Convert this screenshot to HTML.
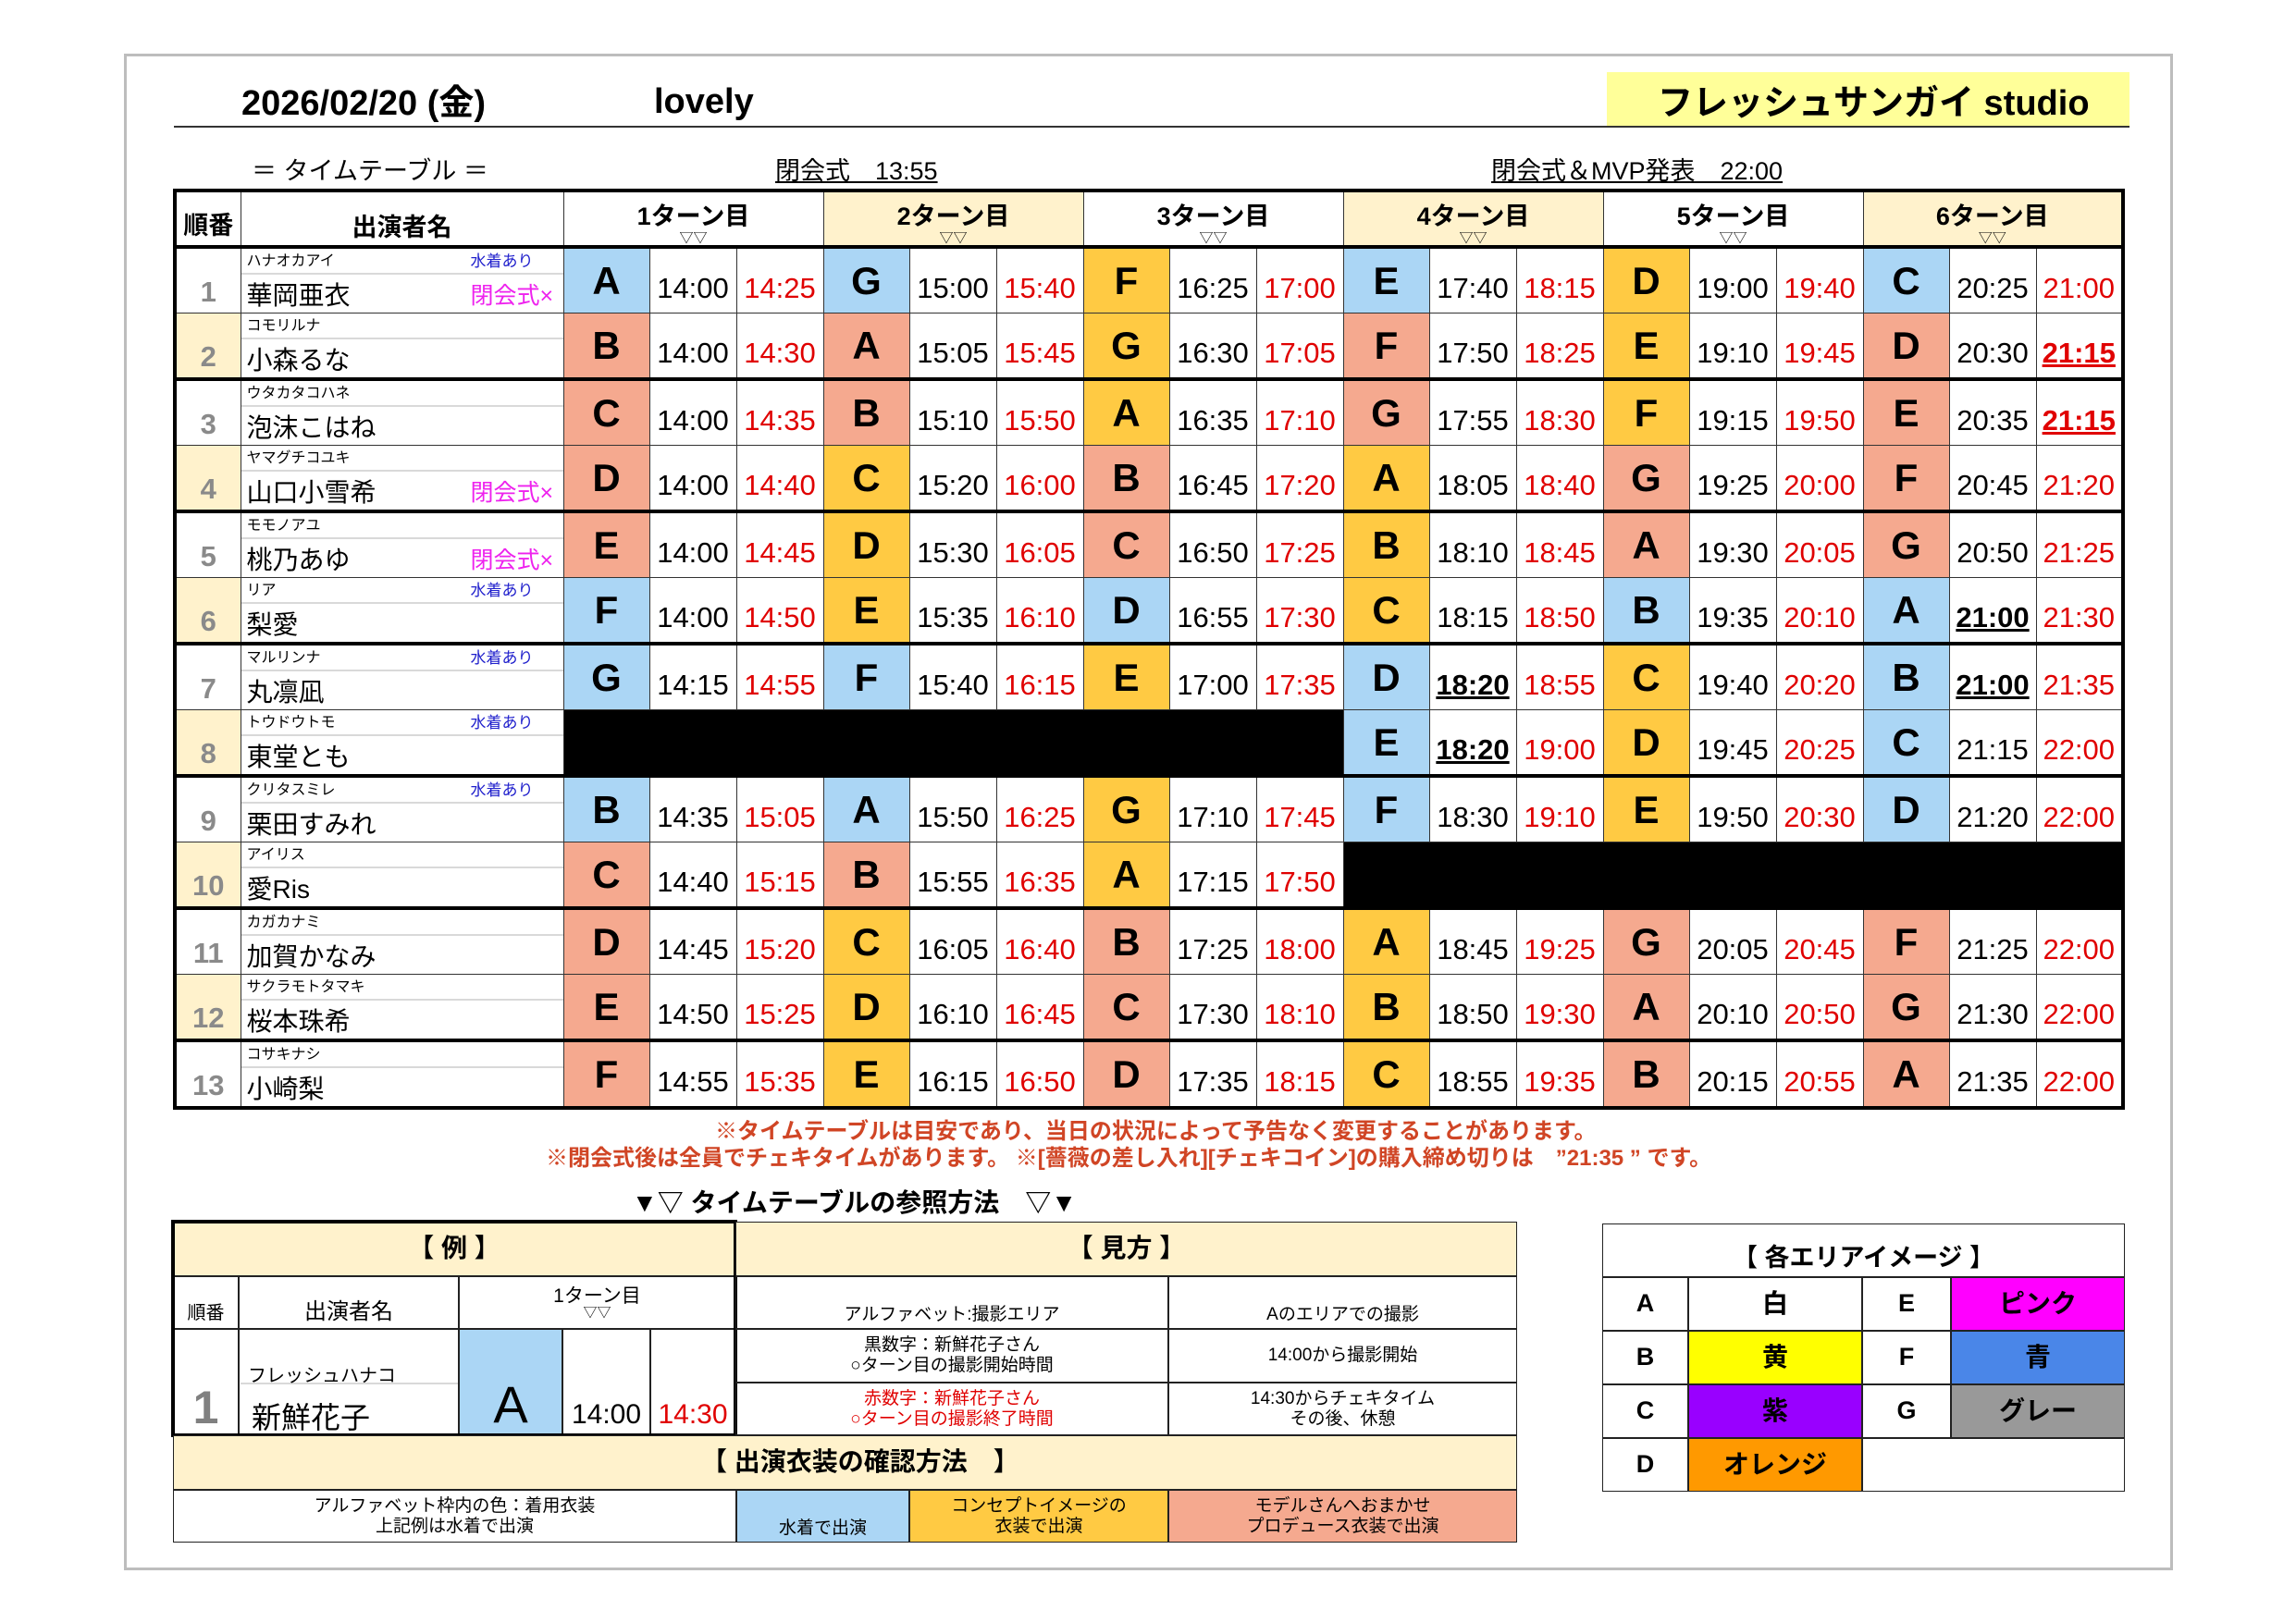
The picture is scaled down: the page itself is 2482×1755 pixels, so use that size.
<!DOCTYPE html>
<html><head><meta charset="utf-8">
<style>
*{margin:0;padding:0;box-sizing:border-box}
body{width:2482px;height:1755px;background:#fff;position:relative;overflow:hidden;font-family:"Liberation Sans","Noto Sans CJK JP",sans-serif;color:#000}
.a{position:absolute;white-space:nowrap}
#frame{position:absolute;left:134px;top:58px;width:2215px;height:1640px;border:3px solid #bdbdbd}
table.m{position:absolute;left:187px;top:204px;border-collapse:collapse;table-layout:fixed;border:4px solid #000}
table.m td{border:1.5px solid #333;padding:0;overflow:hidden}
table.m tr.h td{height:58px;border-bottom:4px solid #000;text-align:center;vertical-align:top;font-weight:bold;font-size:27px}
table.m tr.d td{height:71px}
table.m tr.th td{border-bottom:4px solid #000}
td.no{text-align:center;vertical-align:bottom;color:#8a8a8a;font-weight:bold;font-size:31px;padding-bottom:4px!important}
td.ev{background:#fff2cc}
td.nm{vertical-align:top}
.kn{height:28px;border-bottom:2px solid #d9d9d9;font-size:16px;line-height:27px;padding-left:6px;position:relative}
.nn{height:41px;font-size:28px;line-height:46px;padding-left:6px;position:relative}
.mz{position:absolute;left:248px;top:0;color:#1f1fcc;font-size:17px}
.hk{position:absolute;left:248px;top:0;color:#ee22ee;font-size:25px}
td.L{text-align:center;vertical-align:bottom;font-weight:bold;font-size:42px;line-height:52px;padding-bottom:8px!important}
td.t{text-align:center;vertical-align:bottom;font-size:31px;line-height:40px;padding-bottom:6px!important}
td.r{color:#e00000}
.u{font-weight:bold;text-decoration:underline}
.b{background:#abd6f5}.s{background:#f5a98f}.g{background:#ffca43}.k{background:#000}
.cr{background:#fff2cc}
.tv{font-size:15px;font-weight:normal;display:block;line-height:14px}
.bx{position:absolute;border:1.5px solid #222;display:flex;align-items:center;justify-content:center;text-align:center;line-height:1.15}
</style></head><body>
<div id="frame"></div>
<div class="a" style="left:261px;top:80px;font-size:38px;font-weight:bold">2026/02/20 (金)</div>
<div class="a" style="left:707px;top:89px;font-size:38px;font-weight:bold">lovely</div>
<div class="a" style="left:1737px;top:78px;width:565px;height:59px;background:#ffff99"></div>
<div class="a" style="left:1792px;top:80px;font-size:38px;font-weight:bold">フレッシュサンガイ studio</div>
<div class="a" style="left:188px;top:136px;width:2114px;height:2px;background:#333"></div>
<div class="a" style="left:272px;top:163px;font-size:27px">＝ タイムテーブル ＝</div>
<div class="a" style="left:838px;top:163px;font-size:27px;text-decoration:underline">閉会式　13:55</div>
<div class="a" style="left:1612px;top:163px;font-size:27px;text-decoration:underline">閉会式＆MVP発表　22:00</div>

<table class="m">
<colgroup><col style="width:71px"><col style="width:349px">
<col style="width:93px"><col style="width:94px"><col style="width:94px">
<col style="width:93px"><col style="width:94px"><col style="width:94px">
<col style="width:93px"><col style="width:94px"><col style="width:94px">
<col style="width:93px"><col style="width:94px"><col style="width:94px">
<col style="width:93px"><col style="width:94px"><col style="width:94px">
<col style="width:93px"><col style="width:94px"><col style="width:94px"></colgroup>
<tr class="h"><td style="vertical-align:bottom;padding-bottom:4px">順番</td><td style="vertical-align:bottom;padding-bottom:2px">出演者名</td>
<td colspan="3" style="padding-top:4px">1ターン目<span class="tv">▽▽</span></td>
<td colspan="3" class="cr" style="padding-top:4px">2ターン目<span class="tv">▽▽</span></td>
<td colspan="3" style="padding-top:4px">3ターン目<span class="tv">▽▽</span></td>
<td colspan="3" class="cr" style="padding-top:4px">4ターン目<span class="tv">▽▽</span></td>
<td colspan="3" style="padding-top:4px">5ターン目<span class="tv">▽▽</span></td>
<td colspan="3" class="cr" style="padding-top:4px">6ターン目<span class="tv">▽▽</span></td></tr>

<tr class="d"><td class="no">1</td><td class="nm"><div class="kn">ハナオカアイ<span class="mz">水着あり</span></div><div class="nn">華岡亜衣<span class="hk">閉会式×</span></div></td>
<td class="L b">A</td><td class="t">14:00</td><td class="t r">14:25</td>
<td class="L b">G</td><td class="t">15:00</td><td class="t r">15:40</td>
<td class="L g">F</td><td class="t">16:25</td><td class="t r">17:00</td>
<td class="L b">E</td><td class="t">17:40</td><td class="t r">18:15</td>
<td class="L g">D</td><td class="t">19:00</td><td class="t r">19:40</td>
<td class="L b">C</td><td class="t">20:25</td><td class="t r">21:00</td></tr>

<tr class="d th"><td class="no ev">2</td><td class="nm"><div class="kn">コモリルナ</div><div class="nn">小森るな</div></td>
<td class="L s">B</td><td class="t">14:00</td><td class="t r">14:30</td>
<td class="L s">A</td><td class="t">15:05</td><td class="t r">15:45</td>
<td class="L g">G</td><td class="t">16:30</td><td class="t r">17:05</td>
<td class="L s">F</td><td class="t">17:50</td><td class="t r">18:25</td>
<td class="L g">E</td><td class="t">19:10</td><td class="t r">19:45</td>
<td class="L s">D</td><td class="t">20:30</td><td class="t r"><span class="u">21:15</span></td></tr>

<tr class="d"><td class="no">3</td><td class="nm"><div class="kn">ウタカタコハネ</div><div class="nn">泡沫こはね</div></td>
<td class="L s">C</td><td class="t">14:00</td><td class="t r">14:35</td>
<td class="L s">B</td><td class="t">15:10</td><td class="t r">15:50</td>
<td class="L g">A</td><td class="t">16:35</td><td class="t r">17:10</td>
<td class="L s">G</td><td class="t">17:55</td><td class="t r">18:30</td>
<td class="L g">F</td><td class="t">19:15</td><td class="t r">19:50</td>
<td class="L s">E</td><td class="t">20:35</td><td class="t r"><span class="u">21:15</span></td></tr>

<tr class="d th"><td class="no ev">4</td><td class="nm"><div class="kn">ヤマグチコユキ</div><div class="nn">山口小雪希<span class="hk">閉会式×</span></div></td>
<td class="L s">D</td><td class="t">14:00</td><td class="t r">14:40</td>
<td class="L g">C</td><td class="t">15:20</td><td class="t r">16:00</td>
<td class="L s">B</td><td class="t">16:45</td><td class="t r">17:20</td>
<td class="L g">A</td><td class="t">18:05</td><td class="t r">18:40</td>
<td class="L s">G</td><td class="t">19:25</td><td class="t r">20:00</td>
<td class="L s">F</td><td class="t">20:45</td><td class="t r">21:20</td></tr>

<tr class="d"><td class="no">5</td><td class="nm"><div class="kn">モモノアユ</div><div class="nn">桃乃あゆ<span class="hk">閉会式×</span></div></td>
<td class="L s">E</td><td class="t">14:00</td><td class="t r">14:45</td>
<td class="L g">D</td><td class="t">15:30</td><td class="t r">16:05</td>
<td class="L s">C</td><td class="t">16:50</td><td class="t r">17:25</td>
<td class="L g">B</td><td class="t">18:10</td><td class="t r">18:45</td>
<td class="L s">A</td><td class="t">19:30</td><td class="t r">20:05</td>
<td class="L s">G</td><td class="t">20:50</td><td class="t r">21:25</td></tr>

<tr class="d th"><td class="no ev">6</td><td class="nm"><div class="kn">リア<span class="mz">水着あり</span></div><div class="nn">梨愛</div></td>
<td class="L b">F</td><td class="t">14:00</td><td class="t r">14:50</td>
<td class="L g">E</td><td class="t">15:35</td><td class="t r">16:10</td>
<td class="L b">D</td><td class="t">16:55</td><td class="t r">17:30</td>
<td class="L g">C</td><td class="t">18:15</td><td class="t r">18:50</td>
<td class="L b">B</td><td class="t">19:35</td><td class="t r">20:10</td>
<td class="L b">A</td><td class="t"><span class="u">21:00</span></td><td class="t r">21:30</td></tr>

<tr class="d"><td class="no">7</td><td class="nm"><div class="kn">マルリンナ<span class="mz">水着あり</span></div><div class="nn">丸凛凪</div></td>
<td class="L b">G</td><td class="t">14:15</td><td class="t r">14:55</td>
<td class="L b">F</td><td class="t">15:40</td><td class="t r">16:15</td>
<td class="L g">E</td><td class="t">17:00</td><td class="t r">17:35</td>
<td class="L b">D</td><td class="t"><span class="u">18:20</span></td><td class="t r">18:55</td>
<td class="L g">C</td><td class="t">19:40</td><td class="t r">20:20</td>
<td class="L b">B</td><td class="t"><span class="u">21:00</span></td><td class="t r">21:35</td></tr>

<tr class="d th"><td class="no ev">8</td><td class="nm"><div class="kn">トウドウトモ<span class="mz">水着あり</span></div><div class="nn">東堂とも</div></td>
<td colspan="9" class="k"></td>
<td class="L b">E</td><td class="t"><span class="u">18:20</span></td><td class="t r">19:00</td>
<td class="L g">D</td><td class="t">19:45</td><td class="t r">20:25</td>
<td class="L b">C</td><td class="t">21:15</td><td class="t r">22:00</td></tr>

<tr class="d"><td class="no">9</td><td class="nm"><div class="kn">クリタスミレ<span class="mz">水着あり</span></div><div class="nn">栗田すみれ</div></td>
<td class="L b">B</td><td class="t">14:35</td><td class="t r">15:05</td>
<td class="L b">A</td><td class="t">15:50</td><td class="t r">16:25</td>
<td class="L g">G</td><td class="t">17:10</td><td class="t r">17:45</td>
<td class="L b">F</td><td class="t">18:30</td><td class="t r">19:10</td>
<td class="L g">E</td><td class="t">19:50</td><td class="t r">20:30</td>
<td class="L b">D</td><td class="t">21:20</td><td class="t r">22:00</td></tr>

<tr class="d th"><td class="no ev">10</td><td class="nm"><div class="kn">アイリス</div><div class="nn">愛Ris</div></td>
<td class="L s">C</td><td class="t">14:40</td><td class="t r">15:15</td>
<td class="L s">B</td><td class="t">15:55</td><td class="t r">16:35</td>
<td class="L g">A</td><td class="t">17:15</td><td class="t r">17:50</td>
<td colspan="9" class="k"></td></tr>

<tr class="d"><td class="no">11</td><td class="nm"><div class="kn">カガカナミ</div><div class="nn">加賀かなみ</div></td>
<td class="L s">D</td><td class="t">14:45</td><td class="t r">15:20</td>
<td class="L g">C</td><td class="t">16:05</td><td class="t r">16:40</td>
<td class="L s">B</td><td class="t">17:25</td><td class="t r">18:00</td>
<td class="L g">A</td><td class="t">18:45</td><td class="t r">19:25</td>
<td class="L s">G</td><td class="t">20:05</td><td class="t r">20:45</td>
<td class="L s">F</td><td class="t">21:25</td><td class="t r">22:00</td></tr>

<tr class="d th"><td class="no ev">12</td><td class="nm"><div class="kn">サクラモトタマキ</div><div class="nn">桜本珠希</div></td>
<td class="L s">E</td><td class="t">14:50</td><td class="t r">15:25</td>
<td class="L g">D</td><td class="t">16:10</td><td class="t r">16:45</td>
<td class="L s">C</td><td class="t">17:30</td><td class="t r">18:10</td>
<td class="L g">B</td><td class="t">18:50</td><td class="t r">19:30</td>
<td class="L s">A</td><td class="t">20:10</td><td class="t r">20:50</td>
<td class="L s">G</td><td class="t">21:30</td><td class="t r">22:00</td></tr>

<tr class="d"><td class="no">13</td><td class="nm"><div class="kn">コサキナシ</div><div class="nn">小崎梨</div></td>
<td class="L s">F</td><td class="t">14:55</td><td class="t r">15:35</td>
<td class="L g">E</td><td class="t">16:15</td><td class="t r">16:50</td>
<td class="L s">D</td><td class="t">17:35</td><td class="t r">18:15</td>
<td class="L g">C</td><td class="t">18:55</td><td class="t r">19:35</td>
<td class="L s">B</td><td class="t">20:15</td><td class="t r">20:55</td>
<td class="L s">A</td><td class="t">21:35</td><td class="t r">22:00</td></tr>
</table>

<div class="a" style="left:773px;top:1203px;font-size:24px;font-weight:bold;color:#d04525">※タイムテーブルは目安であり、当日の状況によって予告なく変更することがあります。</div>
<div class="a" style="left:590px;top:1232px;font-size:24px;font-weight:bold;color:#d04525">※閉会式後は全員でチェキタイムがあります。 ※[薔薇の差し入れ][チェキコイン]の購入締め切りは　”21:35 ” です。</div>
<div class="a" style="left:683px;top:1279px;font-size:28px;font-weight:bold">▼▽ タイムテーブルの参照方法　▽▼</div>

<!-- example left -->
<div class="bx cr" style="left:187px;top:1321px;width:608px;height:59px;font-size:28px;font-weight:bold">【 例 】</div>
<div class="bx" style="left:187px;top:1380px;width:71px;height:57px;font-size:20px;align-items:flex-end;padding-bottom:4px">順番</div>
<div class="bx" style="left:258px;top:1380px;width:238px;height:57px;font-size:24px;align-items:flex-end;padding-bottom:3px">出演者名</div>
<div class="bx" style="left:496px;top:1380px;width:299px;height:57px;font-size:21px;flex-direction:column;line-height:1">1ターン目<span style="font-size:15px">▽▽</span></div>
<div class="bx" style="left:187px;top:1437px;width:71px;height:115px;font-size:50px;font-weight:bold;color:#808080;align-items:flex-end">1</div>
<div class="a" style="left:258px;top:1437px;width:238px;height:115px;border:1.5px solid #222"></div>
<div class="a" style="left:260px;top:1495px;width:235px;height:2px;background:#d9d9d9"></div>
<div class="a" style="left:268px;top:1471px;font-size:20px">フレッシュハナコ</div>
<div class="a" style="left:272px;top:1508px;font-size:32px">新鮮花子</div>
<div class="bx b" style="left:496px;top:1437px;width:112px;height:115px;font-size:56px;align-items:flex-end">A</div>
<div class="bx" style="left:608px;top:1437px;width:95px;height:115px;font-size:30px;align-items:flex-end;padding-bottom:4px">14:00</div>
<div class="bx" style="left:703px;top:1437px;width:92px;height:115px;font-size:30px;color:#e00000;align-items:flex-end;padding-bottom:4px">14:30</div>
<div class="a" style="left:185px;top:1319px;width:612px;height:235px;border:4px solid #000"></div>
<!-- example right -->
<div class="bx cr" style="left:795px;top:1321px;width:845px;height:59px;font-size:28px;font-weight:bold">【 見方 】</div>
<div class="bx" style="left:795px;top:1380px;width:468px;height:57px;font-size:19px;align-items:flex-end;padding-bottom:3px">アルファベット:撮影エリア</div>
<div class="bx" style="left:1263px;top:1380px;width:377px;height:57px;font-size:19px;align-items:flex-end;padding-bottom:3px">Aのエリアでの撮影</div>
<div class="bx" style="left:795px;top:1437px;width:468px;height:58px;font-size:19px">黒数字：新鮮花子さん<br>○ターン目の撮影開始時間</div>
<div class="bx" style="left:1263px;top:1437px;width:377px;height:58px;font-size:19px">14:00から撮影開始</div>
<div class="bx" style="left:795px;top:1495px;width:468px;height:57px;font-size:19px;color:#e00000">赤数字：新鮮花子さん<br>○ターン目の撮影終了時間</div>
<div class="bx" style="left:1263px;top:1495px;width:377px;height:57px;font-size:19px">14:30からチェキタイム<br>その後、休憩</div>
<!-- costume -->
<div class="bx cr" style="left:187px;top:1552px;width:1453px;height:59px;font-size:28px;font-weight:bold;justify-content:flex-start;padding-left:570px">【 出演衣装の確認方法　】</div>
<div class="bx" style="left:187px;top:1611px;width:609px;height:57px;font-size:19px">アルファベット枠内の色：着用衣装<br>上記例は水着で出演</div>
<div class="bx b" style="left:796px;top:1611px;width:187px;height:57px;font-size:19px;align-items:flex-end;padding-bottom:3px">水着で出演</div>
<div class="bx g" style="left:983px;top:1611px;width:280px;height:57px;font-size:19px">コンセプトイメージの<br>衣装で出演</div>
<div class="bx s" style="left:1263px;top:1611px;width:377px;height:57px;font-size:19px">モデルさんへおまかせ<br>プロデュース衣装で出演</div>
<!-- legend -->
<div class="bx" style="left:1732px;top:1323px;width:565px;height:58px;font-size:27px;font-weight:bold;align-items:flex-end;padding-bottom:4px">【 各エリアイメージ 】</div>
<div class="bx" style="left:1732px;top:1381px;width:93px;height:58px;font-size:27px;font-weight:bold">A</div>
<div class="bx" style="left:1825px;top:1381px;width:188px;height:58px;font-size:28px;font-weight:bold">白</div>
<div class="bx" style="left:2013px;top:1381px;width:96px;height:58px;font-size:27px;font-weight:bold">E</div>
<div class="bx" style="left:2109px;top:1381px;width:188px;height:58px;font-size:28px;font-weight:bold;background:#ff00ff">ピンク</div>
<div class="bx" style="left:1732px;top:1439px;width:93px;height:58px;font-size:27px;font-weight:bold">B</div>
<div class="bx" style="left:1825px;top:1439px;width:188px;height:58px;font-size:28px;font-weight:bold;background:#ffff00">黄</div>
<div class="bx" style="left:2013px;top:1439px;width:96px;height:58px;font-size:27px;font-weight:bold">F</div>
<div class="bx" style="left:2109px;top:1439px;width:188px;height:58px;font-size:28px;font-weight:bold;background:#4a86e8">青</div>
<div class="bx" style="left:1732px;top:1497px;width:93px;height:58px;font-size:27px;font-weight:bold">C</div>
<div class="bx" style="left:1825px;top:1497px;width:188px;height:58px;font-size:28px;font-weight:bold;background:#9900ff">紫</div>
<div class="bx" style="left:2013px;top:1497px;width:96px;height:58px;font-size:27px;font-weight:bold">G</div>
<div class="bx" style="left:2109px;top:1497px;width:188px;height:58px;font-size:28px;font-weight:bold;background:#999999">グレー</div>
<div class="bx" style="left:1732px;top:1555px;width:93px;height:58px;font-size:27px;font-weight:bold">D</div>
<div class="bx" style="left:1825px;top:1555px;width:188px;height:58px;font-size:28px;font-weight:bold;background:#ff9900">オレンジ</div>
<div class="bx" style="left:2013px;top:1555px;width:284px;height:58px"></div>
</body></html>
